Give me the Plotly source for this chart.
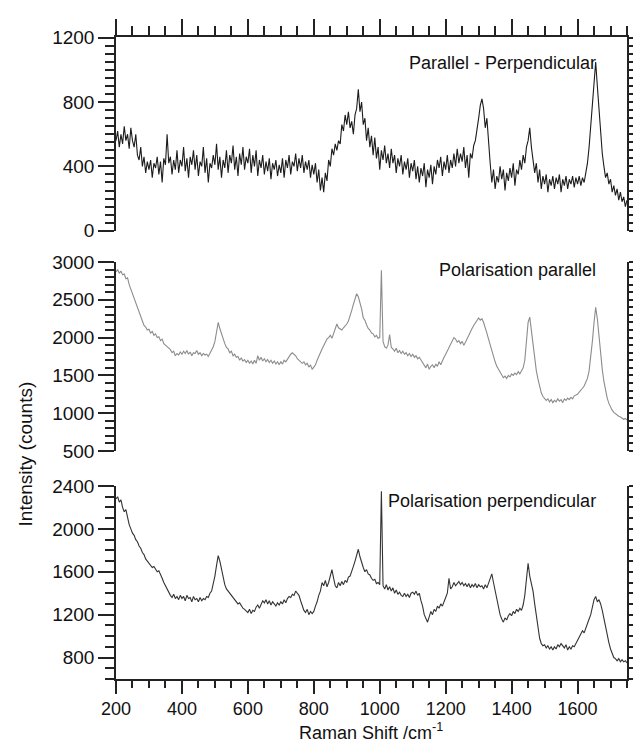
import plotly.graph_objects as go

# Raman shift grid (cm^-1), 5 cm^-1 steps from 200 to 1750
shift = list(range(200, 1755, 5))

diff_par_perp = [
    560, 620, 520, 600, 540, 650, 560, 600, 510, 640, 560, 520, 600, 470, 440, 520, 400, 460, 360, 430,
    380, 440, 330, 420, 390, 460, 350, 430, 300, 450, 410, 600, 420, 460, 350, 440, 380, 500, 360, 440,
    400, 520, 370, 450, 330, 460, 410, 500, 380, 470, 340, 430, 400, 520, 360, 450, 300, 420, 390, 470,
    410, 540, 380, 460, 330, 440, 390, 500, 360, 470, 420, 530, 380, 460, 340, 480, 410, 520, 380, 460,
    420, 510, 360, 470, 400, 500, 340, 440, 390, 470, 350, 430, 370, 450, 320, 420, 380, 440, 340, 410,
    360, 450, 330, 440, 390, 470, 350, 430, 400, 480, 370, 450, 390, 470, 360, 430, 380, 440, 330, 410,
    350, 420, 300, 380, 250, 330, 240, 360, 310, 440, 400, 510, 470, 540, 500, 560, 540, 660, 620, 720,
    660, 740, 640, 680, 600, 720, 760, 880, 740, 800, 660, 700, 560, 640, 520, 590, 470, 580, 450, 520,
    380, 500, 440, 530, 420, 480, 390, 510, 420, 470, 360, 450, 400, 470, 350, 430, 380, 450, 330, 420,
    370, 440, 320, 400, 300, 390, 340, 420, 270, 380, 330, 410, 290, 400, 350, 440, 390, 460, 340, 430,
    380, 470, 360, 440, 390, 480, 400, 510, 420, 480, 430, 520, 390, 470, 330, 480, 450, 530, 560, 650,
    700, 780, 820, 760, 640, 700, 520, 420, 300, 380, 260, 340, 300, 400, 320, 380, 250, 360, 310, 390,
    330, 420, 280, 380, 350, 440, 380, 470, 420, 520, 560, 640, 520, 440, 360, 420, 300, 380, 260, 340,
    290, 350, 240, 320, 280, 340, 260, 330, 290, 350, 240, 320, 280, 340, 260, 320, 290, 340, 270, 330,
    290, 340, 280, 330, 300, 360, 420, 520, 640, 780, 920, 1050, 900, 760, 600, 480, 400, 330, 360, 290,
    320, 240, 280, 220, 260, 190, 240, 180, 210, 150, 190,
]

pol_parallel = [
    2870, 2900, 2850, 2880, 2830, 2840, 2780, 2790, 2700, 2640, 2580, 2540, 2470, 2420, 2350, 2300, 2220, 2160, 2140, 2100,
    2110, 2060, 2080, 2030, 2050, 2000, 2010, 1960, 1980, 1920, 1900, 1880, 1860, 1840, 1800, 1820, 1760, 1790, 1770, 1810,
    1780, 1820, 1790, 1830, 1780, 1810, 1760, 1800, 1790, 1830, 1780, 1800, 1760, 1790, 1770, 1780, 1750, 1790, 1820, 1880,
    1950, 2060, 2200, 2120, 2050, 1960, 1920, 1870, 1850, 1800, 1820, 1760, 1780, 1740, 1750, 1700, 1730, 1690, 1710, 1670,
    1700, 1660, 1690, 1650, 1700, 1660, 1760, 1700, 1740, 1690, 1720, 1680, 1710, 1670, 1700, 1660, 1690, 1650, 1680, 1640,
    1680, 1650, 1700, 1680, 1720, 1750, 1780, 1800, 1780, 1760, 1720, 1700, 1690, 1660, 1680, 1640, 1660, 1610, 1640, 1580,
    1610, 1640, 1700, 1760, 1800, 1850, 1900, 1950, 1980, 2000, 2030, 1990, 2060, 2100, 2180, 2130, 2120, 2100, 2130, 2150,
    2180, 2220, 2280, 2360, 2440, 2500, 2580, 2540, 2460, 2380, 2260, 2230, 2170, 2120, 2100, 2060, 2050, 2010, 2030, 1990,
    2000, 2890, 1950, 1880, 1860, 1900, 2040, 1870, 1850, 1820, 1860, 1800, 1830, 1790, 1820, 1780, 1800, 1760, 1790, 1750,
    1780, 1740, 1760, 1720, 1740, 1700, 1680, 1620, 1600, 1650, 1580, 1620, 1640, 1600, 1650, 1620, 1680, 1640, 1700, 1740,
    1780, 1820, 1880, 1920, 1960, 2000, 1980, 1940, 1960, 1920, 1950, 1900, 1940, 1990, 2040, 2080, 2120, 2160, 2200, 2230,
    2260, 2230, 2250, 2200, 2140, 2060, 1980, 1900, 1820, 1740, 1680, 1620, 1580, 1530, 1500, 1470, 1490, 1460, 1500, 1480,
    1520, 1500, 1530, 1510, 1550, 1520, 1560, 1600, 1700, 1950, 2200, 2270, 2100, 1900, 1700, 1560, 1450, 1350, 1270, 1220,
    1200, 1170, 1190, 1150, 1180, 1140, 1170, 1150, 1190, 1160, 1180, 1140, 1190, 1170, 1200, 1180, 1210, 1190, 1230, 1240,
    1250, 1280, 1300, 1330, 1360, 1400, 1460, 1560, 1720, 1950, 2200, 2400, 2250, 2000, 1780, 1580, 1420, 1300, 1200, 1130,
    1080, 1040, 1010, 990, 970, 960, 950, 940, 920, 930, 910,
]

pol_perpendicular = [
    2280, 2300, 2250, 2270, 2200, 2160, 2180, 2100, 2040, 2000, 1960, 1940, 1900, 1880, 1840, 1820, 1780, 1760, 1720, 1700,
    1680, 1660, 1640, 1650, 1620, 1600, 1610, 1580, 1540, 1500, 1470, 1440, 1400, 1380, 1360, 1390, 1350, 1370, 1340, 1380,
    1350, 1370, 1330, 1380, 1350, 1360, 1320, 1370, 1340, 1350, 1320, 1360, 1330, 1350, 1340, 1370, 1360, 1400, 1420, 1480,
    1560, 1660, 1750, 1700, 1620, 1540, 1480, 1440, 1420, 1400, 1380, 1370, 1340, 1330, 1300, 1310, 1280, 1260, 1250, 1230,
    1220, 1250, 1210, 1240, 1230, 1270, 1290, 1260, 1300, 1330, 1310, 1340, 1300, 1330, 1290, 1320, 1300, 1280, 1310, 1290,
    1320, 1300, 1340, 1310, 1350, 1370, 1360, 1390, 1380, 1420, 1400, 1380, 1330, 1280, 1240, 1220, 1250, 1200, 1230, 1210,
    1230, 1280, 1320, 1380, 1420, 1500, 1470, 1520, 1460, 1500, 1560, 1620, 1540, 1470, 1450, 1500, 1470, 1510, 1480, 1520,
    1500, 1550, 1560, 1600, 1650, 1700, 1760, 1810, 1740, 1680, 1640, 1600, 1620, 1580, 1570, 1540, 1520, 1530, 1490, 1500,
    1480, 2350, 1470, 1440, 1480, 1430, 1460, 1420, 1450, 1400, 1430, 1390, 1410, 1380, 1370, 1400, 1370, 1390, 1360, 1400,
    1410, 1390, 1420, 1380, 1400, 1330, 1280, 1200, 1160, 1130, 1180, 1230, 1200, 1250, 1230, 1280, 1260, 1300, 1280, 1330,
    1360, 1400, 1540, 1440, 1460, 1500, 1470, 1490, 1510, 1480, 1500, 1470, 1490, 1460, 1490, 1450, 1480, 1460, 1490, 1450,
    1480, 1460, 1470, 1440, 1480, 1450, 1490, 1540, 1580, 1500, 1420, 1340, 1260, 1200, 1160, 1130, 1170, 1150, 1190, 1210,
    1190, 1230, 1210, 1250, 1230, 1260, 1240, 1290, 1380, 1560, 1680, 1560, 1490, 1420, 1300, 1180, 1060, 980, 930, 910,
    920, 890, 910, 880, 900, 870, 900, 880, 920, 900, 930, 910, 890, 920, 870, 900, 880, 910, 900, 930,
    960, 990, 1010, 1050, 1030, 1080, 1110, 1160, 1200, 1280, 1340, 1370, 1320, 1340, 1300, 1240, 1160, 1080, 1000, 940,
    880, 830, 800, 790, 770, 790, 760, 780, 760, 770, 750,
]

panel_labels = ["Parallel - Perpendicular", "Polarisation parallel", "Polarisation perpendicular"]
x_ticks = [200, 400, 600, 800, 1000, 1200, 1400, 1600]

INK = "#222222"
FONT = "Liberation Sans, Arial, sans-serif"

fig = go.Figure()
fig.add_trace(go.Scatter(x=shift, y=diff_par_perp, mode="lines", xaxis="x", yaxis="y",
                         line=dict(color="#1c1c1c", width=1.1), hoverinfo="skip"))
fig.add_trace(go.Scatter(x=shift, y=pol_parallel, mode="lines", xaxis="x", yaxis="y2",
                         line=dict(color="#8c8c8c", width=1.1), hoverinfo="skip"))
fig.add_trace(go.Scatter(x=shift, y=pol_perpendicular, mode="lines", xaxis="x", yaxis="y3",
                         line=dict(color="#333333", width=1.1), hoverinfo="skip"))

H_TOP = 29
H_BOT = 71
plot_h = 742 - H_TOP - H_BOT


def fy(px):
    return (742 - H_BOT - px) / plot_h


def fx(px):
    return (px - 108) / (641 - 108 - 14)


def left_axis(domain, rng, dtick, tick0, mdtick):
    return dict(domain=domain, range=rng, anchor="x", showline=True, linecolor=INK, linewidth=1.5,
                ticks="outside", ticklen=16, tickwidth=1.5, tickcolor=INK, tick0=tick0, dtick=dtick,
                minor=dict(dtick=mdtick, tick0=tick0, ticks="outside", ticklen=9, tickwidth=1.5, tickcolor=INK),
                showgrid=False, zeroline=False, tickfont=dict(family=FONT, size=19, color="#111"))


def right_axis(over, rng, mdtick):
    return dict(overlaying=over, side="right", anchor="x", range=rng, showline=True, linecolor=INK,
                linewidth=1.5, ticks="outside", ticklen=10, tickwidth=1.5, tickcolor=INK, dtick=mdtick,
                tick0=0, showticklabels=False, showgrid=False, zeroline=False)


top_rng = [0, 1205]
mid_rng = [500, 3000]
bot_rng = [600, 2400]

fig.update_layout(
    width=641, height=742,
    margin=dict(l=108, r=14, t=H_TOP, b=H_BOT),
    plot_bgcolor="white", paper_bgcolor="white",
    showlegend=False,
    font=dict(family=FONT, color="#111"),
    xaxis=dict(domain=[0, 1], anchor="y3", range=[200, 1750], showline=True, linecolor=INK, linewidth=1.5,
               ticks="outside", ticklen=13, tickwidth=1.5, tickcolor=INK, tickvals=x_ticks,
               minor=dict(dtick=50, tick0=200, ticks="outside", ticklen=7, tickwidth=1.5, tickcolor=INK),
               showgrid=False, zeroline=False, tickfont=dict(family=FONT, size=18, color="#111")),
    xaxis2=dict(overlaying="x", anchor="y", side="top", range=[200, 1750], showline=True, linecolor=INK,
                linewidth=1.5, ticks="outside", ticklen=16, tickwidth=1.5, tickcolor=INK, tickvals=x_ticks,
                minor=dict(dtick=50, tick0=200, ticks="outside", ticklen=9, tickwidth=1.5, tickcolor=INK),
                showticklabels=False, showgrid=False, zeroline=False),
    yaxis=left_axis([fy(222.7), 1.0], top_rng, 400, 0, 50),
    yaxis2=left_axis([fy(443), fy(254)], mid_rng, 500, 0, 100),
    yaxis3=left_axis([0.0, fy(478)], bot_rng, 400, 0, 100),
    yaxis4=right_axis("y", top_rng, 50),
    yaxis5=right_axis("y2", mid_rng, 100),
    yaxis6=right_axis("y3", bot_rng, 100),
)

# invisible helpers so that the overlay axes are drawn
fig.add_trace(go.Scatter(x=[shift[0]], y=[diff_par_perp[0]], xaxis="x2", yaxis="y", mode="lines",
                         line=dict(width=0), hoverinfo="skip", opacity=0))
for ya, ser in (("y4", diff_par_perp), ("y5", pol_parallel), ("y6", pol_perpendicular)):
    fig.add_trace(go.Scatter(x=[shift[0]], y=[ser[0]], xaxis="x", yaxis=ya, mode="lines",
                             line=dict(width=0), hoverinfo="skip", opacity=0))

label_y = [55, 262, 493]
for txt, py in zip(panel_labels, label_y):
    fig.add_annotation(text=txt, xref="paper", yref="paper", x=fx(598), y=fy(py), xanchor="right",
                       yanchor="middle", showarrow=False, font=dict(family=FONT, size=18, color="#111"))

fig.add_annotation(text="Intensity (counts)", xref="paper", yref="paper", x=fx(16), y=fy(446),
                   textangle=-90, xanchor="center", yanchor="middle", showarrow=False,
                   font=dict(family=FONT, size=19, color="#111"))
fig.add_annotation(text="Raman Shift /cm<sup>-1</sup>", xref="paper", yref="paper", x=fx(367), y=0,
                   yshift=-(736 - (742 - H_BOT)), xanchor="center", yanchor="bottom", showarrow=False,
                   borderpad=0, font=dict(family=FONT, size=18, color="#111"))

fig.write_html("out.html")
